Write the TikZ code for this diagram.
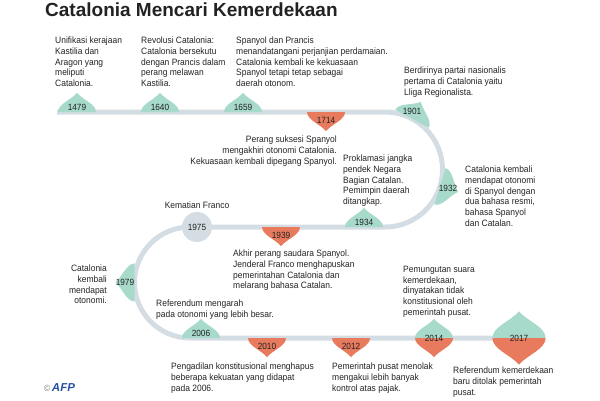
\documentclass[tikz,border=0pt]{standalone}
\usepackage{fontspec}
\setmainfont{Liberation Sans}[FakeStretch=0.92]
\newfontfamily\titlefont{Liberation Sans}
\usetikzlibrary{positioning}
\definecolor{mint}{HTML}{A7DACB}
\definecolor{coral}{HTML}{E87B5D}
\definecolor{rail}{HTML}{D4DDE3}
\definecolor{ink}{HTML}{222222}
\definecolor{afpblue}{HTML}{2B50A0}

\begin{document}
\begin{tikzpicture}[x=1pt,y=1pt,
        leaf/.pic={\path[pic actions] (-19,0) .. controls (-19,8) and (-6,12) .. (0,19) .. controls (6,12) and (19,8) .. (19,0) -- cycle;},
        railline/.style={draw=rail,line width=5pt},
        note/.style={inner sep=0pt,align=left,text=ink,font=\fontsize{9.2}{10.7}\selectfont},
        year/.style={inner sep=0pt,text=ink,font=\fontsize{9}{10}\selectfont}]
        \useasboundingbox (0,0) rectangle (600,400);
        \node[anchor=base west,inner sep=0pt,text=ink,font=\titlefont\fontsize{19}{19}\selectfont\bfseries] (title) at (45,383) {Catalonia Mencari Kemerdekaan};

        % track
        \coordinate (east) at (385,230.5);
        \coordinate (west) at (190,117.5);
        \draw[railline] (57,288) -- (385,288) arc[start angle=90,end angle=-90,radius=57.5] -- (190,173) arc[start angle=90,end angle=270,radius=55.5] -- (519,62);

        % markers
        \foreach \x/\y in {77/288,160/288,243/288,364/173,201/62,434/62}
                \pic[fill=mint] at (\x,\y) {leaf};
        \foreach \x/\y in {326/288,281/173,267/62,351/62,434/62}
                \pic[fill=coral,rotate=180] at (\x,\y) {leaf};
        \pic[fill=mint,rotate=-28] at ([shift={(east)}]62:57.5) {leaf};
        \pic[fill=mint,rotate=-107] at ([shift={(east)}]-17:57.5) {leaf};
        \pic[fill=mint,rotate=90] at ([shift={(west)}]180:55.5) {leaf};
        \pic[fill=mint,scale=1.4] at (519,62) {leaf};
        \pic[fill=coral,scale=1.4,rotate=180] at (519,62) {leaf};

        % years
        \node[year,anchor=base] (y1479) at (77,289.5) {1479};
        \node[year,anchor=base] (y1640) at (160,289.5) {1640};
        \node[year,anchor=base] (y1659) at (243,289.5) {1659};
        \node[year,anchor=base] (y1714) at (326,277) {1714};
        \node[year] (y1901) at (412,289) {1901};
        \node[year] (y1932) at (448,212) {1932};
        \node[year,anchor=base] (y1934) at (364,174.5) {1934};
        \node[year,anchor=base] (y1939) at (281,162) {1939};
        \node[circle,fill=rail,minimum size=30pt,inner sep=0pt,text=ink,font=\fontsize{9}{10}\selectfont] (y1975) at (197,173) {1975};
        \node[year] (y1979) at (125,118) {1979};
        \node[year,anchor=base] (y2006) at (201,63.5) {2006};
        \node[year,anchor=base] (y2010) at (267,51) {2010};
        \node[year,anchor=base] (y2012) at (351,51) {2012};
        \node[year] (y2014) at (434,62) {2014};
        \node[year] (y2017) at (519,62) {2017};

        % notes
        \node[note,anchor=north west] (unifikasi) at (55,363) {Unifikasi kerajaan\\Kastilia dan\\Aragon yang\\meliputi\\Catalonia.};
        \node[note,anchor=north west] (revolusi) at (141,363) {Revolusi Catalonia:\\Catalonia bersekutu\\dengan Prancis dalam\\perang melawan\\Kastilia.};
        \node[note,anchor=north west] (damai) at (236,363) {Spanyol dan Prancis\\menandatangani perjanjian perdamaian.\\Catalonia kembali ke kekuasaan\\Spanyol tetapi tetap sebagai\\daerah otonom.};
        \node[note,anchor=north west] (lliga) at (404,333) {Berdirinya partai nasionalis\\pertama di Catalonia yaitu\\Lliga Regionalista.};
        \node[note,anchor=north east,align=right] (suksesi) at (337,264) {Perang suksesi Spanyol\\mengakhiri otonomi Catalonia.\\Kekuasaan kembali dipegang Spanyol.};
        \node[note,anchor=north west] (proklamasi) at (343,245) {Proklamasi jangka\\pendek Negara\\Bagian Catalan.\\Pemimpin daerah\\ditangkap.};
        \node[note,anchor=north west] (otonomi) at (465,234) {Catalonia kembali\\mendapat otonomi\\di Spanyol dengan\\dua bahasa resmi,\\bahasa Spanyol\\dan Catalan.};
        \node[note,above=3pt of y1975] (franco) {Kematian Franco};
        \node[note,anchor=north west] (saudara) at (233,150) {Akhir perang saudara Spanyol.\\Jenderal Franco menghapuskan\\pemerintahan Catalonia dan\\melarang bahasa Catalan.};
        \node[note,anchor=north east,align=right] (kembali) at (107,135) {Catalonia\\kembali\\mendapat\\otonomi.};
        \node[note,anchor=north west] (mengarah) at (156,100) {Referendum mengarah\\pada otonomi yang lebih besar.};
        \node[note,anchor=north west] (pengadilan) at (171,37) {Pengadilan konstitusional menghapus\\beberapa kekuatan yang didapat\\pada 2006.};
        \node[note,anchor=north west] (pajak) at (332,37) {Pemerintah pusat menolak\\mengakui lebih banyak\\kontrol atas pajak.};
        \node[note,anchor=north west] (pemungutan) at (403,134) {Pemungutan suara\\kemerdekaan,\\dinyatakan tidak\\konstitusional oleh\\pemerintah pusat.};
        \node[note,anchor=north west] (ditolak) at (453,33) {Referendum kemerdekaan\\baru ditolak pemerintah\\pusat.};

        % credit
        \node[anchor=west,inner sep=0pt] (logo) at (44,12) {\textcolor{gray}{\fontsize{9}{9}\selectfont\textcopyright}\,\textcolor{afpblue}{\titlefont\fontsize{11.5}{12}\selectfont\bfseries\itshape AFP}};
    \end{tikzpicture}
\end{document}
